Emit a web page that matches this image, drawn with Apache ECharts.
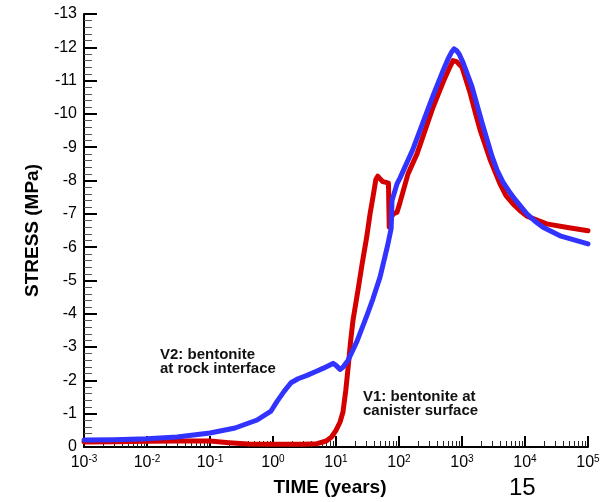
<!DOCTYPE html>
<html><head><meta charset="utf-8">
<script src="https://cdn.jsdelivr.net/npm/echarts@6/dist/echarts.min.js"></script>
<style>html,body{margin:0;padding:0;background:#fff}#c{width:612px;height:502px}</style>
</head><body><div id="c"></div>
<script>
// V1: bentonite at canister surface (red)
const v1Time = [0.001, 0.003, 0.01, 0.03, 0.1, 0.2, 0.4, 1, 3, 5, 7, 8.5, 10, 11.6, 12.9, 14.3, 15.5, 17, 18.6, 22.3, 26, 31, 34.7, 38.6, 43, 46, 50, 55, 60, 68, 70, 75, 82, 93, 104, 139, 193, 347, 500, 620, 720, 820, 1000, 1340, 1610, 1930, 2780, 4010, 5000, 6460, 8300, 10700, 22000, 50000, 100000];
const v1Stress = [-0.15, -0.16, -0.17, -0.18, -0.18, -0.13, -0.09, -0.08, -0.08, -0.1, -0.18, -0.3, -0.5, -0.75, -1.05, -1.7, -2.35, -3.15, -3.8, -4.7, -5.5, -6.35, -7.0, -7.5, -8.04, -8.13, -8.05, -7.97, -7.95, -7.92, -6.6, -6.9, -7.0, -7.05, -7.35, -8.2, -8.8, -10.2, -10.95, -11.35, -11.6, -11.57, -11.4, -10.64, -10.07, -9.53, -8.64, -7.9, -7.55, -7.3, -7.1, -6.93, -6.7, -6.58, -6.49];
// V2: bentonite at rock interface (blue)
const v2Time = [0.001, 0.003, 0.01, 0.03, 0.1, 0.25, 0.56, 0.93, 1.16, 1.5, 1.93, 2.5, 3.47, 5, 6.2, 8.96, 10, 11.6, 13, 15.5, 21.5, 31, 38.6, 50, 65, 75, 77.5, 93, 104, 167, 347, 500, 600, 680, 746, 820, 900, 1040, 1440, 1730, 2080, 2990, 3600, 4470, 5570, 6900, 10700, 14400, 19300, 36000, 100000];
const v2Stress = [-0.21, -0.22, -0.25, -0.3, -0.42, -0.57, -0.81, -1.08, -1.37, -1.67, -1.93, -2.05, -2.15, -2.28, -2.36, -2.51, -2.45, -2.33, -2.4, -2.6, -3.17, -3.95, -4.45, -5.1, -6.0, -6.55, -7.4, -7.9, -8.08, -8.95, -10.55, -11.3, -11.65, -11.85, -11.95, -11.9, -11.8, -11.54, -10.82, -10.28, -9.74, -8.73, -8.31, -7.95, -7.68, -7.44, -7.0, -6.78, -6.6, -6.34, -6.1];
// axis ticks
const xTickExponents = [-3, -2, -1, 0, 1, 2, 3, 4, 5];
const yMin = -13, yMax = 0, yStep = 1;

const minorLog = [];
for (let n = xTickExponents[0]; n < xTickExponents[xTickExponents.length - 1]; n++) {
  for (let k = 2; k <= 9; k++) minorLog.push(n + Math.log10(k));
}
const FONT = '"Liberation Sans", Arial, sans-serif';
const chart = echarts.init(document.getElementById('c'), null, {renderer: 'canvas'});
chart.setOption({
  animation: false,
  backgroundColor: '#fff',
  grid: {left: 84, right: 24, top: 14, bottom: 53, containLabel: false},
  xAxis: [{
    type: 'log', logBase: 10,
    min: Math.pow(10, xTickExponents[0]), max: Math.pow(10, xTickExponents[xTickExponents.length - 1]),
    splitNumber: 8,
    name: 'TIME (years)', nameLocation: 'middle', nameGap: 31,
    nameTextStyle: {fontFamily: FONT, fontWeight: 'bold', fontSize: 19, color: '#000', padding: [0, 12, 0, 0]},
    axisLine: {show: true, onZero: false, lineStyle: {color: '#000', width: 2}},
    axisTick: {show: true, inside: true, length: 11, lineStyle: {color: '#000', width: 2}},
    splitLine: {show: false},
    axisLabel: {
      interval: 0, margin: 7, color: '#000',
      formatter: v => '{b|10}{s|' + Math.round(Math.log10(v)) + '}',
      rich: {
        b: {fontFamily: FONT, fontSize: 16, color: '#000', lineHeight: 18},
        s: {fontFamily: FONT, fontSize: 10, color: '#000', verticalAlign: 'top', lineHeight: 10}
      }
    }
  }, {
    type: 'value', min: xTickExponents[0], max: xTickExponents[xTickExponents.length - 1],
    position: 'bottom',
    axisLine: {show: false},
    axisLabel: {show: false},
    splitLine: {show: false},
    axisTick: {show: true, inside: true, length: 6, customValues: minorLog, lineStyle: {color: '#222', width: 1}}
  }],
  yAxis: {
    type: 'value', min: yMin, max: yMax, interval: yStep, inverse: true,
    name: 'STRESS (MPa)', nameLocation: 'middle', nameGap: 42, nameRotate: 90,
    nameTextStyle: {fontFamily: FONT, fontWeight: 'bold', fontSize: 19, color: '#000', padding: [0, 0, 0, 0]},
    axisLine: {show: true, onZero: false, lineStyle: {color: '#000', width: 2}},
    axisTick: {show: true, inside: true, length: 13, lineStyle: {color: '#000', width: 2}},
    minorTick: {show: true, splitNumber: 5, length: 8, lineStyle: {color: '#555', width: 1}},
    splitLine: {show: false},
    axisLabel: {fontFamily: FONT, fontSize: 16, color: '#000', margin: 7}
  },
  series: [{
    name: 'V1', type: 'line', xAxisIndex: 0, showSymbol: false, smooth: false,
    lineStyle: {color: '#d40000', width: 5, join: 'round', cap: 'round'}, itemStyle: {color: '#d40000'},
    data: v1Time.map((t, i) => [t, v1Stress[i]]), z: 2
  }, {
    name: 'V2', type: 'line', xAxisIndex: 0, showSymbol: false, smooth: false,
    lineStyle: {color: '#3333ff', width: 5, join: 'round', cap: 'round'}, itemStyle: {color: '#3333ff'},
    data: v2Time.map((t, i) => [t, v2Stress[i]]), z: 3
  }],
  graphic: [{
    type: 'text', left: 160, top: 347,
    style: {text: 'V2: bentonite\nat rock interface', font: 'bold 15px ' + FONT, fill: '#111', lineHeight: 14}
  }, {
    type: 'text', left: 363, top: 389,
    style: {text: 'V1: bentonite at\ncanister surface', font: 'bold 15px ' + FONT, fill: '#111', lineHeight: 14}
  }, {
    type: 'text', left: 509, top: 476,
    style: {text: '15', font: '24px ' + FONT, fill: '#000'}
  }]
});
</script>
</body></html>
